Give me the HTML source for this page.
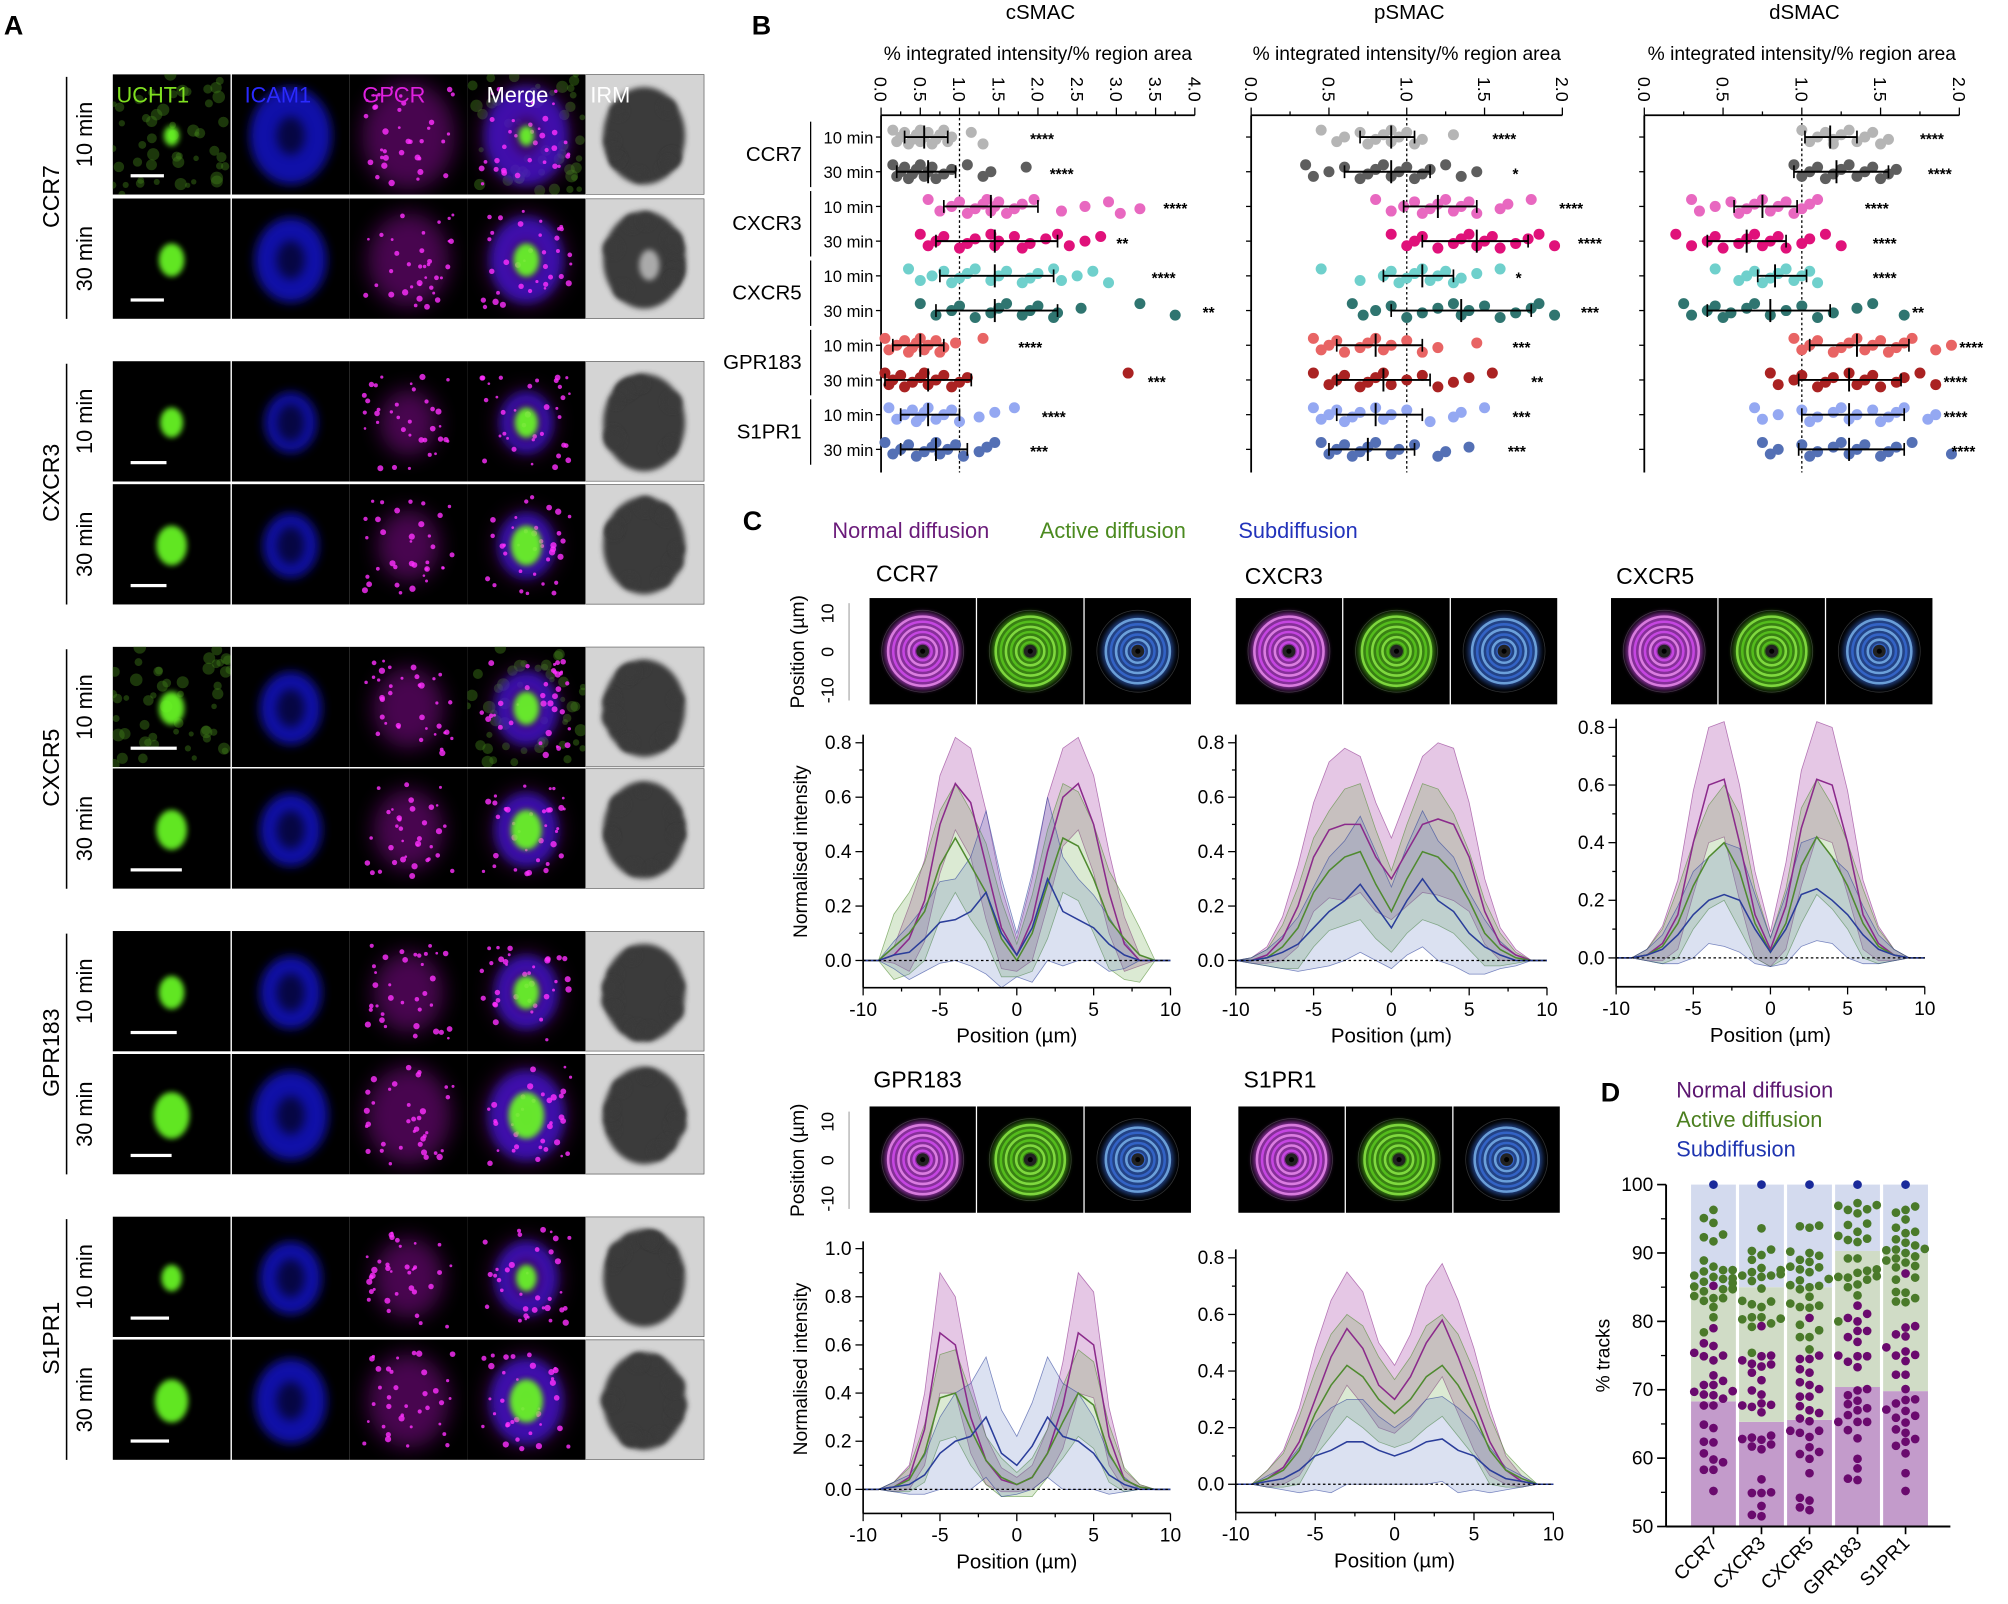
<!DOCTYPE html>
<html><head><meta charset="utf-8">
<style>
html,body{margin:0;padding:0;background:#fff;}
svg{display:block;font-family:"Liberation Sans",Arial,sans-serif;}
</style></head>
<body>
<svg id="fig" width="2008" height="1604" viewBox="0 0 1568 1252.5" preserveAspectRatio="none" xmlns="http://www.w3.org/2000/svg">
<defs>
<filter id="b2" x="-50%" y="-50%" width="200%" height="200%"><feGaussianBlur stdDeviation="2"/></filter>
<filter id="b4" x="-50%" y="-50%" width="200%" height="200%"><feGaussianBlur stdDeviation="4"/></filter>
<filter id="b8" x="-50%" y="-50%" width="200%" height="200%"><feGaussianBlur stdDeviation="8"/></filter>
</defs>
<g id="panelA"></g>
<g id="panelB"></g>
<g id="panelC"></g>
<g id="panelD"></g>
</svg>
<script>
const NS='http://www.w3.org/2000/svg';
function mk(p,tag,at,txt){const e=document.createElementNS(NS,tag);for(const k in at)e.setAttribute(k,at[k]);if(txt!=null)e.textContent=txt;p.appendChild(e);return e;}

/* ---------------- Panel B data ---------------- */
const bGroups=['CCR7','CXCR3','CXCR5','GPR183','S1PR1'];
const bTimes=['10 min','30 min'];
const bColors=['#b5b5b5','#5e5e5e','#e868c0','#e0117a','#6fd0cc','#2f7570','#e86464','#aa2222','#94a8f2','#5470b5'];
const cMean=[0.55,0.6,1.4,1.45,1.45,1.45,0.5,0.6,0.6,0.7];
const cLo=[0.3,0.2,0.8,0.7,0.75,0.7,0.15,0.05,0.25,0.25];
const cHi=[0.85,0.95,2.0,2.25,2.2,2.25,0.8,1.15,1.0,1.1];
const cDots=[
[0.15,0.2,0.25,0.3,0.35,0.4,0.45,0.5,0.5,0.55,0.6,0.65,0.7,0.75,0.8,0.85,0.9,1.15,1.3],
[0.15,0.2,0.25,0.3,0.35,0.4,0.45,0.5,0.55,0.6,0.65,0.7,0.8,0.9,1.1,1.3,1.4,1.85],
[0.6,0.75,0.9,1.0,1.1,1.2,1.3,1.35,1.4,1.45,1.5,1.6,1.7,1.8,1.95,2.3,2.6,2.9,3.05,3.3],
[0.5,0.6,0.7,0.8,1.0,1.1,1.2,1.4,1.45,1.5,1.7,1.8,1.9,2.1,2.25,2.4,2.6,2.8],
[0.35,0.5,0.65,0.8,0.9,1.0,1.1,1.2,1.4,1.5,1.6,1.8,1.9,2.0,2.2,2.3,2.5,2.7,2.9],
[0.5,0.7,0.9,1.0,1.2,1.4,1.5,1.6,1.8,1.9,2.0,2.2,2.25,2.55,3.3,3.75],
[0.05,0.1,0.2,0.3,0.35,0.4,0.45,0.5,0.55,0.6,0.7,0.75,0.8,0.95,1.3],
[0.05,0.1,0.15,0.25,0.3,0.4,0.5,0.55,0.6,0.7,0.8,0.9,1.0,1.1,3.15],
[0.1,0.2,0.3,0.4,0.45,0.5,0.55,0.6,0.7,0.8,0.9,1.0,1.25,1.45,1.7],
[0.05,0.15,0.25,0.35,0.45,0.55,0.65,0.7,0.75,0.85,0.95,1.05,1.25,1.35,1.45]];
const cStars=['****','****','****','**','****','**','****','***','****','***'];
const cStarPos=[1.9,2.15,3.6,3.0,3.45,4.1,1.75,3.4,2.05,1.9];

const pMean=[0.9,0.9,1.2,1.45,1.1,1.35,0.8,0.85,0.8,0.75];
const pLo=[0.7,0.6,0.98,1.1,0.85,0.9,0.55,0.55,0.55,0.5];
const pHi=[1.05,1.15,1.45,1.78,1.3,1.8,1.1,1.15,1.1,1.05];
const pDots=[
[0.45,0.55,0.6,0.7,0.75,0.8,0.85,0.9,0.9,0.95,1.0,1.05,1.1,1.3],
[0.35,0.4,0.5,0.6,0.7,0.75,0.8,0.85,0.9,0.95,1.0,1.05,1.1,1.15,1.25,1.35,1.45],
[0.8,0.9,0.98,1.05,1.1,1.15,1.2,1.25,1.3,1.35,1.4,1.45,1.6,1.65,1.8],
[0.9,1.0,1.05,1.1,1.2,1.3,1.35,1.4,1.45,1.5,1.55,1.6,1.7,1.78,1.85,1.95],
[0.45,0.7,0.85,0.9,0.95,1.0,1.05,1.1,1.15,1.2,1.25,1.3,1.35,1.45,1.6],
[0.65,0.72,0.8,0.9,1.0,1.1,1.2,1.3,1.35,1.4,1.5,1.6,1.7,1.8,1.85,1.95],
[0.4,0.45,0.5,0.55,0.6,0.7,0.75,0.8,0.85,0.9,1.0,1.1,1.2,1.45],
[0.4,0.5,0.55,0.6,0.7,0.75,0.8,0.85,0.9,1.0,1.1,1.2,1.3,1.4,1.55],
[0.4,0.45,0.5,0.55,0.6,0.65,0.7,0.8,0.85,0.9,1.0,1.15,1.3,1.35,1.5],
[0.45,0.5,0.55,0.6,0.65,0.7,0.75,0.8,0.9,0.95,1.05,1.2,1.25,1.4]];
const pStars=['****','*','****','****','*','***','***','**','***','***'];
const pStarPos=[1.55,1.68,1.98,2.1,1.7,2.12,1.68,1.8,1.68,1.65];

const dMean=[1.18,1.22,0.75,0.65,0.83,0.8,1.35,1.3,1.3,1.3];
const dLo=[1.02,0.95,0.57,0.4,0.72,0.4,1.05,0.98,1.0,0.98];
const dHi=[1.35,1.55,0.97,0.9,1.03,1.18,1.68,1.63,1.65,1.65];
const dDots=[
[1.0,1.05,1.1,1.15,1.2,1.2,1.25,1.3,1.35,1.4,1.45,1.5,1.55],
[0.95,1.0,1.05,1.1,1.15,1.2,1.25,1.3,1.35,1.4,1.45,1.5,1.55,1.6],
[0.3,0.35,0.45,0.55,0.6,0.65,0.7,0.75,0.8,0.85,0.9,0.95,1.0,1.05,1.1],
[0.2,0.3,0.4,0.45,0.5,0.6,0.65,0.7,0.75,0.8,0.85,0.9,1.0,1.05,1.15,1.25],
[0.45,0.6,0.65,0.7,0.75,0.8,0.85,0.9,0.95,1.0,1.05,1.1],
[0.25,0.3,0.4,0.45,0.5,0.55,0.65,0.7,0.8,0.9,1.0,1.1,1.2,1.35,1.45,1.65],
[0.95,1.0,1.05,1.1,1.2,1.25,1.3,1.35,1.4,1.45,1.5,1.55,1.6,1.65,1.7,1.85,1.95],
[0.8,0.85,0.95,1.0,1.1,1.15,1.2,1.3,1.35,1.4,1.45,1.5,1.6,1.65,1.75,1.85],
[0.7,0.75,0.85,1.0,1.05,1.1,1.2,1.25,1.3,1.35,1.45,1.5,1.55,1.6,1.65,1.8,1.85],
[0.75,0.8,0.85,1.0,1.05,1.1,1.2,1.25,1.3,1.35,1.4,1.5,1.55,1.6,1.7,1.95]];
const dStars=['****','****','****','****','****','**','****','****','****','****'];
const dStarPos=[1.75,1.8,1.4,1.45,1.45,1.7,2.0,1.9,1.9,1.95];

/* ---------------- Panel C data ---------------- */
const profX=[-10,-9,-8,-7,-6,-5,-4,-3,-2,-1,0,1,2,3,4,5,6,7,8,9,10];
const ccr7P=[0,0,0.02,0.08,0.22,0.5,0.65,0.58,0.35,0.12,0.02,0.15,0.4,0.6,0.65,0.5,0.25,0.06,0,0,0];
const ccr7Psd=[0,0,0.03,0.12,0.15,0.18,0.17,0.2,0.2,0.15,0.06,0.15,0.2,0.18,0.17,0.18,0.15,0.1,0.02,0,0];
const ccr7G=[0,0,0.05,0.1,0.18,0.35,0.45,0.35,0.25,0.08,0.0,0.1,0.28,0.45,0.42,0.3,0.15,0.08,0.02,0,0];
const ccr7Gsd=[0,0,0.12,0.15,0.18,0.2,0.2,0.2,0.18,0.14,0.06,0.14,0.2,0.2,0.2,0.2,0.18,0.15,0.1,0,0];
const ccr7B=[0,0,0.02,0.03,0.08,0.14,0.15,0.18,0.25,0.1,0.02,0.12,0.3,0.18,0.15,0.12,0.06,0.02,0,0,0];
const ccr7Bsd=[0,0,0.05,0.1,0.12,0.15,0.15,0.2,0.3,0.2,0.08,0.2,0.3,0.2,0.15,0.12,0.1,0.05,0,0,0];

const cxcr3P=[0,0,0.02,0.08,0.2,0.38,0.48,0.5,0.5,0.38,0.3,0.4,0.5,0.52,0.5,0.38,0.18,0.06,0.02,0,0];
const cxcr3Psd=[0,0.01,0.03,0.08,0.15,0.2,0.25,0.28,0.25,0.2,0.15,0.2,0.25,0.28,0.28,0.2,0.12,0.06,0.02,0,0];
const cxcr3G=[0,0,0.01,0.05,0.12,0.25,0.33,0.38,0.4,0.28,0.18,0.3,0.4,0.38,0.32,0.22,0.1,0.04,0.01,0,0];
const cxcr3Gsd=[0,0.01,0.03,0.08,0.15,0.2,0.22,0.25,0.25,0.2,0.15,0.2,0.25,0.25,0.22,0.18,0.12,0.06,0.02,0,0];
const cxcr3B=[0,0,0.01,0.03,0.06,0.12,0.18,0.22,0.28,0.2,0.12,0.22,0.3,0.22,0.18,0.1,0.05,0.02,0,0,0];
const cxcr3Bsd=[0,0.01,0.03,0.06,0.1,0.15,0.2,0.22,0.25,0.2,0.15,0.2,0.25,0.22,0.2,0.15,0.1,0.05,0.02,0,0];

const cxcr5P=[0,0,0.01,0.05,0.15,0.4,0.6,0.62,0.4,0.15,0.03,0.18,0.45,0.62,0.6,0.4,0.15,0.05,0.01,0,0];
const cxcr5Psd=[0,0,0.02,0.06,0.12,0.18,0.2,0.2,0.2,0.15,0.06,0.15,0.2,0.2,0.2,0.18,0.12,0.06,0.02,0,0];
const cxcr5G=[0,0,0.01,0.04,0.12,0.25,0.35,0.4,0.3,0.12,0.02,0.12,0.32,0.42,0.35,0.25,0.12,0.04,0.01,0,0];
const cxcr5Gsd=[0,0,0.02,0.06,0.12,0.15,0.18,0.2,0.2,0.12,0.05,0.12,0.2,0.2,0.18,0.15,0.12,0.06,0.02,0,0];
const cxcr5B=[0,0,0.01,0.03,0.08,0.15,0.2,0.22,0.2,0.1,0.02,0.1,0.22,0.24,0.2,0.15,0.08,0.03,0.01,0,0];
const cxcr5Bsd=[0,0,0.02,0.05,0.1,0.15,0.15,0.18,0.18,0.12,0.05,0.12,0.18,0.18,0.15,0.15,0.1,0.05,0.02,0,0];

const gprP=[0,0,0.01,0.05,0.25,0.65,0.6,0.3,0.12,0.04,0.02,0.05,0.15,0.35,0.65,0.6,0.22,0.04,0.01,0,0];
const gprPsd=[0,0,0.02,0.05,0.15,0.25,0.2,0.15,0.1,0.05,0.03,0.05,0.1,0.18,0.25,0.22,0.12,0.04,0.01,0,0];
const gprG=[0,0,0.01,0.04,0.15,0.38,0.4,0.25,0.12,0.05,0.02,0.05,0.15,0.28,0.4,0.35,0.15,0.04,0.01,0,0];
const gprGsd=[0,0,0.02,0.05,0.12,0.18,0.18,0.15,0.1,0.08,0.05,0.08,0.1,0.15,0.18,0.18,0.12,0.05,0.01,0,0];
const gprB=[0,0,0.01,0.02,0.06,0.15,0.2,0.22,0.3,0.15,0.1,0.18,0.3,0.22,0.2,0.15,0.06,0.02,0,0,0];
const gprBsd=[0,0,0.02,0.04,0.08,0.15,0.2,0.22,0.25,0.18,0.12,0.18,0.25,0.22,0.2,0.15,0.08,0.03,0,0,0];

const s1pP=[0,0,0.02,0.06,0.15,0.3,0.45,0.55,0.48,0.35,0.3,0.38,0.5,0.58,0.45,0.3,0.15,0.05,0.01,0,0];
const s1pPsd=[0,0,0.03,0.06,0.12,0.18,0.2,0.2,0.2,0.15,0.12,0.15,0.2,0.2,0.2,0.18,0.12,0.05,0.02,0,0];
const s1pG=[0,0,0.02,0.05,0.12,0.25,0.35,0.42,0.38,0.3,0.25,0.3,0.38,0.42,0.35,0.25,0.12,0.05,0.02,0,0];
const s1pGsd=[0,0,0.03,0.06,0.12,0.15,0.18,0.18,0.18,0.15,0.12,0.15,0.18,0.18,0.18,0.15,0.12,0.06,0.03,0,0];
const s1pB=[0,0,0.01,0.02,0.05,0.1,0.12,0.15,0.15,0.12,0.1,0.12,0.15,0.16,0.12,0.1,0.05,0.02,0.01,0,0];
const s1pBsd=[0,0,0.02,0.04,0.08,0.12,0.15,0.15,0.15,0.12,0.1,0.12,0.15,0.15,0.15,0.12,0.08,0.04,0.02,0,0];

/* ---------------- Panel D data ---------------- */
const dCats=['CCR7','CXCR3','CXCR5','GPR183','S1PR1'];
const normalMean=[68.3,65.3,65.6,70.4,69.8];
const activeMean=[16.7,19.7,19.4,19.9,20.2];
const subMean=[15.0,15.0,15.0,9.7,10.0];
const normalDots=[
[55.2,58.3,58.3,59.4,59.8,60.7,62.3,62.4,64.4,64.9,67.7,67.7,68.7,69.2,69.3,69.7,69.8,70.7,70.7,71.3,72.1,74.3,74.9,75.0,75.4,76.4,76.8,79.0,85.2],
[51.5,51.7,53.0,54.9,54.9,55.0,56.9,61.3,61.7,62.0,62.7,62.8,63.0,63.3,66.7,67.5,67.8,67.7,68.0,69.3,69.9,71.4,72.5,73.4,73.7,73.8,74.3,74.9,75.0,79.3],
[52.4,52.8,53.8,54.2,57.8,59.9,60.6,60.9,61.6,63.1,63.7,64.0,64.0,65.4,65.8,66.6,67.0,67.6,69.0,69.0,70.1,70.7,71.1,72.5,73.0,74.5,74.5,75.0,80.5],
[56.8,57.0,58.5,59.9,62.9,64.1,65.3,65.3,65.3,66.3,67.0,67.3,67.9,68.4,69.2,69.9,70.1,73.3,74.1,74.9,74.9,75.0,77.0,77.7,78.6,78.6,80.0,80.5,81.1,82.3],
[55.2,57.8,60.7,61.8,62.4,62.8,63.7,64.2,65.2,65.9,66.2,66.9,67.1,68.0,68.5,68.6,70.1,72.2,72.2,74.2,75.0,75.1,75.6,76.2,77.8,78.1,79.1,79.3,87.0]];
const activeDots=[
[78.4,80.6,82.1,83.0,83.4,83.4,83.7,84.4,84.7,84.7,84.8,85.1,85.6,85.8,86.2,86.3,86.5,86.7,87.3,87.5,87.5,88.0,88.9,91.7,92.3,92.7,94.4,95.1,96.3],
[75.4,79.2,79.7,80.3,80.4,80.6,80.6,82.1,82.5,82.9,83.0,84.8,85.9,86.5,86.7,86.7,86.9,87.2,87.5,87.8,89.0,89.7,90.3,90.5,93.6],
[75.9,77.7,77.7,78.7,79.5,82.0,82.1,82.3,82.6,83.6,84.7,85.0,85.2,85.3,86.0,86.2,87.2,87.6,87.9,88.0,88.7,89.0,89.6,90.0,90.2,93.7,93.9,94.0],
[80.0,83.8,85.0,85.4,86.1,86.4,86.5,86.6,87.1,87.4,87.6,89.2,89.2,91.6,91.9,92.1,92.5,93.1,94.1,94.3,95.8,96.3,96.4,96.9,97.0,97.3],
[82.8,82.9,83.4,84.2,84.3,86.1,86.4,87.9,88.1,88.6,88.9,89.2,89.5,90.0,90.4,90.5,90.6,91.1,91.5,92.0,92.9,93.1,93.7,94.9,95.9,96.3,96.8]];
const subDots=[100,100,100,100,100];
const dTicks=[50,60,70,80,90,100];

const svg=document.getElementById('fig');
const gA=document.getElementById('panelA'),gB=document.getElementById('panelB'),gC=document.getElementById('panelC'),gD=document.getElementById('panelD');

function letter(g,x,y,t){const e=mk(g,'text',{x:x,y:y,'font-size':21,'font-weight':'bold'},t);

}
letter(gA,3,27,'A');letter(gB,587,27,'B');letter(gC,580,414,'C');letter(gD,1250,860,'D');

/* ---------------- Panel A ---------------- */
let seed=7;function rnd(){seed=(seed*16807)%2147483647;return seed/2147483647;}
const rowTops=[58,155,282,378,505,600,727,823,950,1046];
const colX=[88,181,273,365,457];
const aLabels=[['UCHT1','#7fe020'],['ICAM1','#2a2aff'],['GPCR','#e020e0'],['Merge','#ffffff'],['IRM','#ffffff']];
rowTops.forEach((top,r)=>{
  const size=[1,0.85,0.55,0.6,0.7,0.7,0.7,0.9,0.7,0.85][r];
  for(let c=0;c<5;c++){
    const cell=mk(gA,'svg',{x:colX[c],y:top,width:c==4?93:92,height:94,overflow:'hidden'});
    
    
    mk(cell,'rect',{x:0,y:0,width:94,height:94,fill:c==4?'#d4d4d4':'#000'});
    const cx=46,cy=48;
    if(c==4){
      mk(cell,'ellipse',{cx:cx,cy:cy,rx:32,ry:38,fill:'#3a3a3a',filter:'url(#b2)'});
      for(let i=0;i<12;i++){const a=rnd()*6.283;mk(cell,'circle',{cx:cx+Math.cos(a)*26,cy:cy+Math.sin(a)*31,r:4+rnd()*4,fill:'#3a3a3a',filter:'url(#b2)'});}
      if(r==1) mk(cell,'ellipse',{cx:cx+4,cy:cy+4,rx:8,ry:12,fill:'#aaa',filter:'url(#b2)'});
      mk(cell,'rect',{x:0,y:0,width:93,height:94,fill:'none',stroke:'#555','stroke-width':1});
      continue;
    }
    if((c==0||c==3)&&(r==0||r==4)){for(let i=0;i<50;i++)mk(cell,'circle',{cx:rnd()*92,cy:rnd()*94,r:2+rnd()*3,fill:'#3d7a18',opacity:0.45});}
    if(c==1||c==3){mk(cell,'ellipse',{cx:cx,cy:cy,rx:26*size+6,ry:32*size+6,fill:'#1818e0',opacity:0.75,filter:'url(#b4)'});
      mk(cell,'ellipse',{cx:cx,cy:cy,rx:11,ry:15,fill:'#000',opacity:0.6,filter:'url(#b4)'});}
    if(c==2||c==3){mk(cell,'ellipse',{cx:cx,cy:cy,rx:30*size+6,ry:36*size+6,fill:'#a010b0',opacity:c==3?0.35:0.45,filter:'url(#b8)'});
      for(let i=0;i<35;i++)mk(cell,'circle',{cx:cx+(rnd()-0.5)*70,cy:cy+(rnd()-0.5)*76,r:1+rnd()*1.5,fill:'#ff30ff',opacity:0.8});}
    if(c==0||c==3){const gs=[6,10,9,12,10,12,10,14,8,13][r];
      mk(cell,'ellipse',{cx:cx,cy:cy,rx:gs,ry:gs*1.3,fill:'#6cff28',filter:'url(#b2)',opacity:0.9});}
    if(c==0){const bw=[26,26,28,28,36,40,36,32,30,30][r];
      const sb=mk(cell,'rect',{x:14,y:78,width:bw,height:2.5,fill:'#fff'});
      
      }
    if(r==0){const t=mk(cell,'text',{x:c==0?3:c==3?15:10,y:22,'font-size':17,fill:aLabels[c][1]},aLabels[c][0]);
      
      }
  }
  if(r==0){const t=mk(gA,'text',{x:colX[4]+4,y:top+22,'font-size':17,fill:'#fff'},'IRM');
    
    }
  const tl=mk(gA,'text',{x:0,y:0,'font-size':17,'text-anchor':'middle',transform:`translate(72,${top+47}) rotate(-90)`},r%2?'30 min':'10 min');
  
  
});
bGroups.forEach((g,i)=>{
  const t0=rowTops[i*2],t1=rowTops[i*2+1]+94;
  const ln=mk(gA,'line',{x1:52,x2:52,y1:t0+2,y2:t1,stroke:'#000','stroke-width':1.2});
  
  
  const t=mk(gA,'text',{x:0,y:0,'font-size':18,'text-anchor':'middle',transform:`translate(46,${(t0+t1)/2}) rotate(-90)`},g);
  
  
});

/* ---------------- Panel B ---------------- */
const rowY=i=>107+i*27.1;
function dotPlot(title,x0,ppu,maxV,tickStep,tickLabels,means,los,his,dots,stars,starPos,showNames){
  const X=v=>x0+v*ppu;
  const g=mk(gB,'g',{});
  
  
  const tt=mk(g,'text',{x:X(maxV/2)+2,y:15,'font-size':16,'text-anchor':'middle'},title);
  
  
  const st=mk(g,'text',{x:X(maxV/2),y:47,'font-size':15,'text-anchor':'middle'},'% integrated intensity/% region area');
  
  
  const ax=mk(g,'line',{x1:X(0),x2:X(maxV),y1:90,y2:90,stroke:'#000','stroke-width':1.4});
  
  
  const ay=mk(g,'line',{x1:X(0),x2:X(0),y1:90,y2:369,stroke:'#000','stroke-width':1.4});
  
  
  for(let v=0;v<=maxV+1e-9;v+=tickStep/2){
    const major=Math.abs(v/tickStep-Math.round(v/tickStep))<1e-6;
    mk(g,'line',{x1:X(v),x2:X(v),y1:90,y2:major?84:87,stroke:'#000','stroke-width':1});
  }
  tickLabels.forEach((lb,k)=>{const v=k*tickStep;
    const t=mk(g,'text',{x:0,y:0,'font-size':14,transform:`translate(${X(v)-5},60) rotate(90)`},lb);
    
    });
  const dl=mk(g,'line',{x1:X(1),x2:X(1),y1:92,y2:369,stroke:'#000','stroke-width':1,'stroke-dasharray':'2,2'});
  
  
  for(let i=0;i<10;i++){
    const y=rowY(i);
    mk(g,'line',{x1:X(0)-4,x2:X(0),y1:y,y2:y,stroke:'#000','stroke-width':1});
    dots[i].forEach((v,k)=>{
      const c=mk(g,'circle',{cx:X(v),cy:y+((k*5)%7-3)*1.8,r:4.3,fill:bColors[i]});
      
      
    });
    const eb=mk(g,'line',{x1:X(los[i]),x2:X(his[i]),y1:y,y2:y,stroke:'#000','stroke-width':1.5});
    
    
    [los[i],his[i]].forEach(v=>mk(g,'line',{x1:X(v),x2:X(v),y1:y-5,y2:y+5,stroke:'#000','stroke-width':1.3}));
    const mn=mk(g,'line',{x1:X(means[i]),x2:X(means[i]),y1:y-9,y2:y+9,stroke:'#000','stroke-width':1.5});
    
    
    const s=mk(g,'text',{x:X(starPos[i]),y:y+6,'font-size':12,'font-weight':'bold'},stars[i]);
    
    
    if(showNames){
      const t=mk(g,'text',{x:X(0)-6,y:y+5,'font-size':13,'text-anchor':'end'},bTimes[i%2]);
      
      
    }
  }
  if(showNames){
    bGroups.forEach((gn,j)=>{
      const y0=rowY(j*2)-12,y1=rowY(j*2+1)+12;
      mk(g,'line',{x1:633,x2:633,y1:y0,y2:y1,stroke:'#000','stroke-width':1});
      const t=mk(g,'text',{x:626,y:(y0+y1)/2+5,'font-size':16,'text-anchor':'end'},gn);
      
      
    });
  }
}
dotPlot('cSMAC',688,61.25,4,0.5,['0.0','0.5','1.0','1.5','2.0','2.5','3.0','3.5','4.0'],cMean,cLo,cHi,cDots,cStars,cStarPos,true);
dotPlot('pSMAC',977,121.5,2,0.5,['0.0','0.5','1.0','1.5','2.0'],pMean,pLo,pHi,pDots,pStars,pStarPos,false);
dotPlot('dSMAC',1284,123,2,0.5,['0.0','0.5','1.0','1.5','2.0'],dMean,dLo,dHi,dDots,dStars,dStarPos,false);

/* ---------------- Panel C ---------------- */
[['Normal diffusion','#6a1b7a',650],['Active diffusion','#4b8a1f',812],['Subdiffusion','#2233bb',967]].forEach(l=>{
  const t=mk(gC,'text',{x:l[2],y:420,'font-size':17,fill:l[1]},l[0]);
  
  });
const sCol=[['#8b2a8b','rgba(170,70,170,0.3)'],['#4f8a2f','rgba(110,170,80,0.25)'],['#2a3d9a','rgba(90,120,190,0.22)']];
function thumbs(x0,y0,name,tx,ty,axisLabel){
  const t=mk(gC,'text',{x:tx,y:ty,'font-size':18},name);
  
  
  const ringCols=[['#e050ff','#ff9cff'],['#5fd620','#9cff50'],['#3a70e0','#8ac8ff']];
  for(let k=0;k<3;k++){
    const x=x0+k*84;
    const sq=mk(gC,'g',{});
    
    
    mk(sq,'rect',{x:x,y:y0,width:83,height:83,fill:'#000'});
    const cx=x+41.5,cy=y0+41.5;
    mk(sq,'circle',{cx:cx,cy:cy,r:32,fill:'none',stroke:'#333','stroke-width':0.6});
    const rr=k==2?28:30;
    mk(sq,'circle',{cx:cx,cy:cy,r:rr,fill:ringCols[k][0],opacity:0.6,filter:'url(#b2)'});
    for(let q=rr-3;q>3;q-=4)mk(sq,'circle',{cx:cx,cy:cy,r:q,fill:'none',stroke:q%8<4?ringCols[k][1]:ringCols[k][0],'stroke-width':2,opacity:0.7});
    mk(sq,'circle',{cx:cx,cy:cy,r:5,fill:'#222'});
    mk(sq,'circle',{cx:cx,cy:cy,r:2,fill:'#000'});
  }
  if(axisLabel){
    const yl=mk(gC,'text',{x:0,y:0,'font-size':15,'text-anchor':'middle',transform:`translate(628,${y0+42}) rotate(-90)`},'Position (µm)');
    
    
    [['10',y0+12],['0',y0+42],['-10',y0+72]].forEach(p=>{
      const e=mk(gC,'text',{x:0,y:0,'font-size':14,'text-anchor':'middle',transform:`translate(651,${p[1]}) rotate(-90)`},p[0]);
      
      });
    mk(gC,'line',{x1:663,x2:663,y1:y0+4,y2:y0+80,stroke:'#999','stroke-width':0.8});
  }
}
function profile(name,xl,xr,y0,ppu,ymax,step,series,yTitle){
  const X=v=>xl+(v+10)*(xr-xl)/20, Y=v=>y0-v*ppu;
  const g=mk(gC,'g',{});
  
  
  series.forEach((s,k)=>{
    const up=profX.map((x,i)=>X(x)+','+Y(s[0][i]+s[1][i]));
    const lo=profX.map((x,i)=>X(x)+','+Y(Math.max(s[0][i]-s[1][i],-0.1))).reverse();
    const band=mk(g,'polygon',{points:up.concat(lo).join(' '),fill:sCol[k][1],stroke:sCol[k][0],'stroke-width':0.6,'stroke-opacity':0.6});
    
    
  });
  series.forEach((s,k)=>{
    const ln=mk(g,'polyline',{points:profX.map((x,i)=>X(x)+','+Y(s[0][i])).join(' '),fill:'none',stroke:sCol[k][0],'stroke-width':1.2});
    
    
  });
  const zl=mk(g,'line',{x1:X(-10),x2:X(10),y1:Y(0),y2:Y(0),stroke:'#000','stroke-width':1,'stroke-dasharray':'2,2'});
  
  
  const axB=Y(-0.1);
  const xa=mk(g,'line',{x1:X(-10),x2:X(10),y1:axB,y2:axB,stroke:'#000','stroke-width':1.3});
  
  
  const ya=mk(g,'line',{x1:X(-10),x2:X(-10),y1:axB,y2:Y(ymax+0.03),stroke:'#000','stroke-width':1.3});
  
  
  [-10,-7.5,-5,-2.5,0,2.5,5,7.5,10].forEach(v=>mk(g,'line',{x1:X(v),x2:X(v),y1:axB,y2:axB+(v%5==0?6:3),stroke:'#000','stroke-width':1}));
  [-10,-5,0,5,10].forEach(v=>{const t=mk(g,'text',{x:X(v),y:axB+22,'font-size':15,'text-anchor':'middle'},String(v));
    
    });
  for(let v=0;v<=ymax+1e-9;v+=step/2){mk(g,'line',{x1:X(-10),x2:X(-10)-(Math.abs(v/step-Math.round(v/step))<1e-6?6:3),y1:Y(v),y2:Y(v),stroke:'#000','stroke-width':1});}
  for(let v=0;v<=ymax+1e-9;v+=step){const t=mk(g,'text',{x:X(-10)-9,y:Y(v)+5,'font-size':15,'text-anchor':'end'},v.toFixed(1));
    
    }
  const xt=mk(g,'text',{x:X(0),y:axB+43,'font-size':16,'text-anchor':'middle'},'Position (µm)');
  
  
  if(yTitle){const yt=mk(g,'text',{x:0,y:0,'font-size':15,'text-anchor':'middle',transform:`translate(630,${Y(ymax/2)}) rotate(-90)`},'Normalised intensity');
    
    }
}
thumbs(679,467,'CCR7',684,454,true);
thumbs(965,467,'CXCR3',972,456,false);
thumbs(1258,467,'CXCR5',1262,456,false);
thumbs(679,864,'GPR183',682,849,true);
thumbs(967,864,'S1PR1',971,849,false);
profile('ccr7',674,914,750,212.5,0.8,0.2,[[ccr7P,ccr7Psd],[ccr7G,ccr7Gsd],[ccr7B,ccr7Bsd]],true);
profile('cxcr3',965,1208,750,212.5,0.8,0.2,[[cxcr3P,cxcr3Psd],[cxcr3G,cxcr3Gsd],[cxcr3B,cxcr3Bsd]],false);
profile('cxcr5',1262,1503,748,225,0.8,0.2,[[cxcr5P,cxcr5Psd],[cxcr5G,cxcr5Gsd],[cxcr5B,cxcr5Bsd]],false);
profile('gpr183',674,914,1163,188,1.0,0.2,[[gprP,gprPsd],[gprG,gprGsd],[gprB,gprBsd]],true);
profile('s1pr1',965,1213,1159,221,0.8,0.2,[[s1pP,s1pPsd],[s1pG,s1pGsd],[s1pB,s1pBsd]],false);

/* ---------------- Panel D ---------------- */
[['Normal diffusion','#5b1670',857],['Active diffusion','#4b7f1f',880],['Subdiffusion','#1f35b0',903]].forEach(l=>{
  const t=mk(gD,'text',{x:1309,y:l[2],'font-size':17,fill:l[1]},l[0]);
  
  });
const dY=v=>1192-(v-50)*(1192-925)/50;
const dX=i=>1338+i*37.5;
const bw=35;
dCats.forEach((c,i)=>{
  const x=dX(i)-bw/2;
  const r1=mk(gD,'rect',{x:x,y:dY(normalMean[i]),width:bw,height:dY(50)-dY(normalMean[i]),fill:'#c39bcb'});
  
  
  const top2=normalMean[i]+activeMean[i];
  const r2=mk(gD,'rect',{x:x,y:dY(top2),width:bw,height:dY(normalMean[i])-dY(top2),fill:'#d0dcc6'});
  
  
  const top3=top2+subMean[i];
  const r3=mk(gD,'rect',{x:x,y:dY(top3),width:bw,height:dY(top2)-dY(top3),fill:'#d3daee'});
  
  
  const placed=[];
  function swarm(vals,col){
    vals.forEach(v=>{
      const y=dY(v);let k=0;
      const offs=[0,-7.5,7.5,-15,15];
      while(k<offs.length-1&&placed.some(p=>Math.abs(p[1]-y)<6.5&&Math.abs(p[0]-offs[k])<6.5))k++;
      placed.push([offs[k],y]);
      const d=mk(gD,'circle',{cx:dX(i)+offs[k],cy:y,r:3.4,fill:col});
      
      
    });
  }
  swarm(normalDots[i],'#6a0a6e');
  swarm(activeDots[i],'#4a7a2a');
  const sd=mk(gD,'circle',{cx:dX(i),cy:dY(subDots[i]),r:3.4,fill:'#1a2a9a'});
  
  
  mk(gD,'line',{x1:dX(i),x2:dX(i),y1:dY(50),y2:dY(50)+6,stroke:'#000','stroke-width':1.3});
  const t=mk(gD,'text',{x:0,y:0,'font-size':15,'text-anchor':'end',transform:`translate(${dX(i)+4},${dY(50)+14}) rotate(-45)`},c);
  
  
});
const dax=mk(gD,'line',{x1:1301,x2:1523,y1:dY(50),y2:dY(50),stroke:'#000','stroke-width':1.5});


const day=mk(gD,'line',{x1:1301,x2:1301,y1:dY(50),y2:dY(100),stroke:'#000','stroke-width':1.5});


dTicks.forEach(v=>{
  mk(gD,'line',{x1:1301,x2:1294,y1:dY(v),y2:dY(v),stroke:'#000','stroke-width':1.3});
  mk(gD,'line',{x1:1301,x2:1297,y1:dY(v+5),y2:dY(v+5),stroke:'#000','stroke-width':1,opacity:v<100?1:0});
  const t=mk(gD,'text',{x:1291,y:dY(v)+5,'font-size':15,'text-anchor':'end'},String(v));
  
  
});
const dyt=mk(gD,'text',{x:0,y:0,'font-size':15,'text-anchor':'middle',transform:`translate(1257,${dY(75)}) rotate(-90)`},'% tracks');


</script>
</body></html>
